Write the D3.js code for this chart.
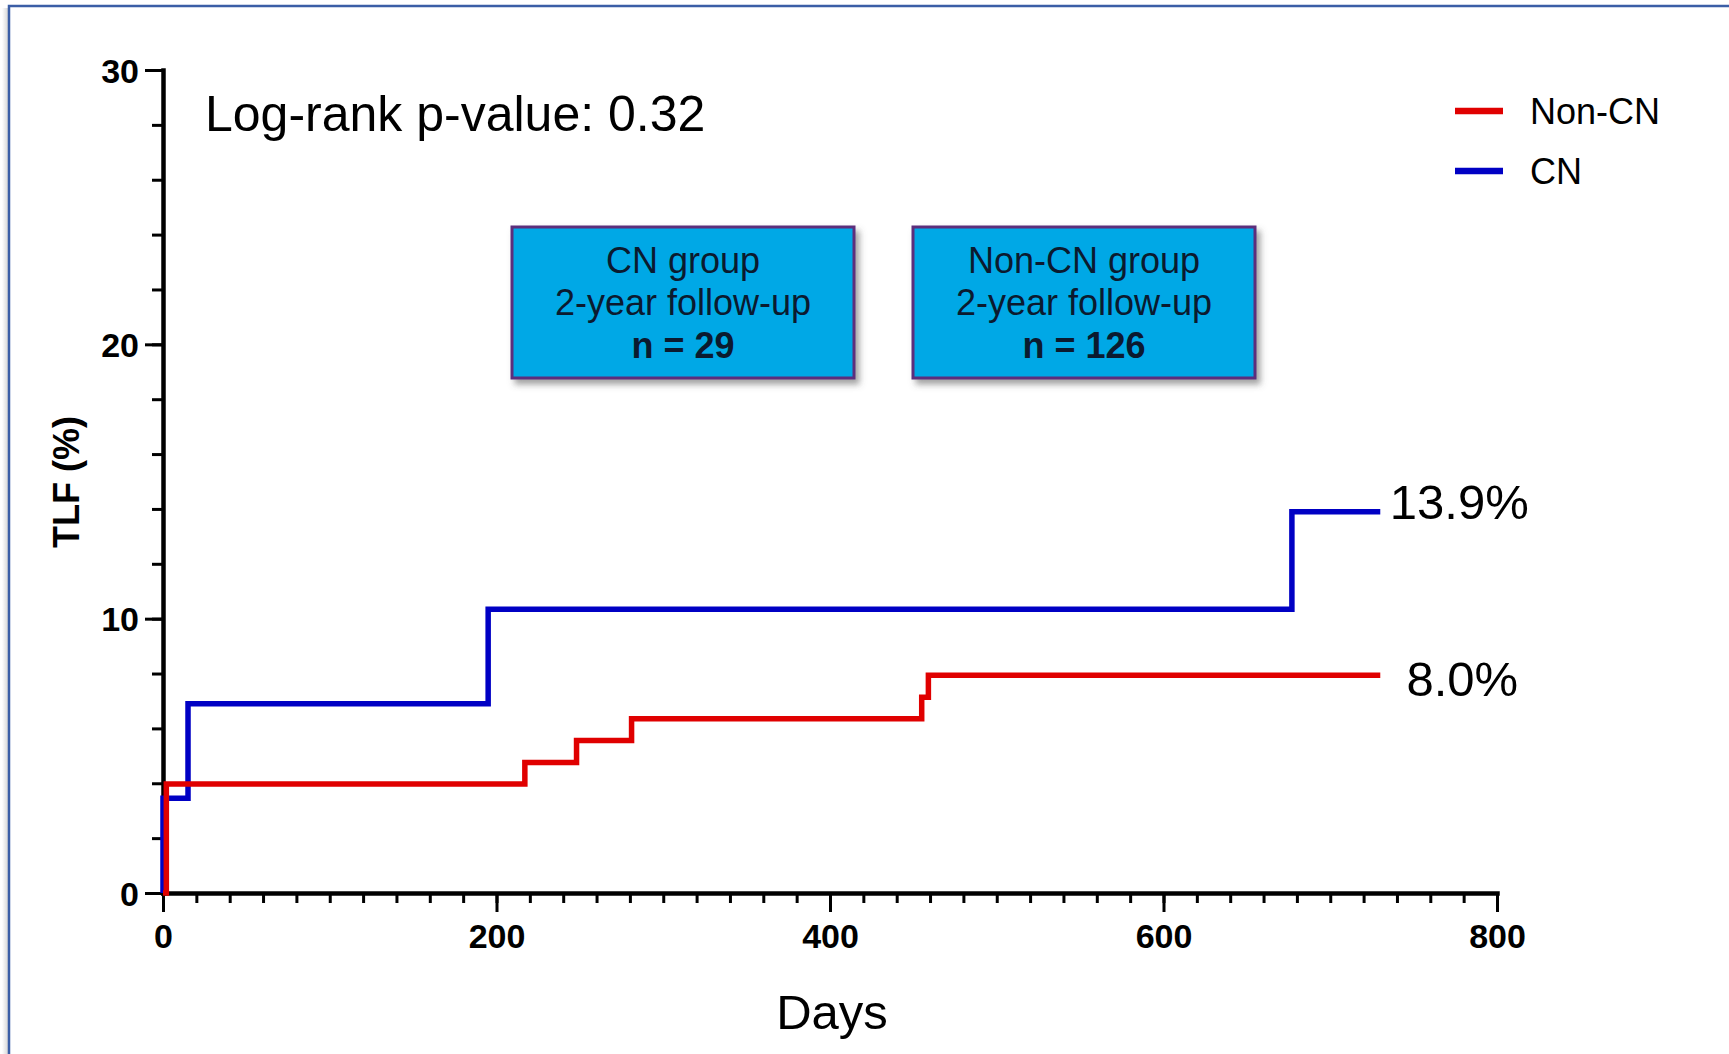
<!DOCTYPE html>
<html>
<head>
<meta charset="utf-8">
<script src="https://cdn.jsdelivr.net/npm/d3@7"></script>
<style>
  html, body { margin: 0; padding: 0; background: #fff; }
  svg { display: block; font-family: Arial, "Liberation Sans", Helvetica, sans-serif; }
</style>
</head>
<body>
<svg id="chart" width="1729" height="1054"></svg>
<script>
// ---- data ----
const seriesNames = ["Non-CN", "CN"];
const nonCnDays   = [0, 2, 217, 248, 281, 455, 459, 730];
const nonCnValues = [0, 3.97, 4.76, 5.56, 6.35, 7.14, 7.94, 7.94];
const cnDays      = [0, 0, 15, 195, 677, 730];
const cnValues    = [0, 3.45, 6.90, 10.34, 13.9, 13.9];
const xMajorTicks = [0, 200, 400, 600, 800];
const yMajorTicks = [0, 10, 20, 30];
const endLabels   = ["8.0%", "13.9%"];
const boxTitles   = ["CN group", "Non-CN group"];
const boxSubtitle = "2-year follow-up";
const boxCounts   = [29, 126];
const pValueText  = "Log-rank p-value: 0.32";

const colors = { "Non-CN": "#e00000", "CN": "#0000c4" };
const FONT = 'Arial, "Liberation Sans", Helvetica, sans-serif';

const svg = d3.select("#chart");
const W = 1729, H = 1054;

// frame
const defs = svg.append("defs");
const lg = defs.append("linearGradient").attr("id", "lshadow").attr("x1", 0).attr("x2", 1);
lg.append("stop").attr("offset", "0%").attr("stop-color", "#ffffff");
lg.append("stop").attr("offset", "100%").attr("stop-color", "#d6d6d6");
svg.append("rect").attr("x", 2).attr("y", 8).attr("width", 6).attr("height", H).attr("fill", "url(#lshadow)");
svg.append("rect").attr("x", 9).attr("y", 6).attr("width", W + 20).attr("height", H + 20)
  .attr("fill", "none").attr("stroke", "#3b5ea6").attr("stroke-width", 2.5);

const flt = defs.append("filter").attr("id", "boxshadow").attr("x", "-10%").attr("y", "-10%").attr("width", "130%").attr("height", "140%");
flt.append("feDropShadow").attr("dx", 4).attr("dy", 5).attr("stdDeviation", 3)
  .attr("flood-color", "#555").attr("flood-opacity", 0.55);

// scales
const x = d3.scaleLinear().domain([0, 800]).range([163, 1497]);
const y = d3.scaleLinear().domain([0, 30]).range([893, 70]);

// axes: minor ticks
svg.append("g").attr("transform", `translate(0,${y(0)})`)
  .call(d3.axisBottom(x).tickValues(d3.range(0, 801, 20)).tickSize(10).tickSizeOuter(0).tickFormat(""))
  .call(g => g.select(".domain").remove())
  .call(g => g.selectAll(".tick line").attr("stroke", "#000").attr("stroke-width", 3));
svg.append("g").attr("transform", `translate(${x(0)},0)`)
  .call(d3.axisLeft(y).tickValues(d3.range(0, 31, 2)).tickSize(11).tickSizeOuter(0).tickFormat(""))
  .call(g => g.select(".domain").remove())
  .call(g => g.selectAll(".tick line").attr("stroke", "#000").attr("stroke-width", 3));

// major axes
const xAxis = svg.append("g").attr("transform", `translate(0,${y(0)})`)
  .call(d3.axisBottom(x).tickValues(xMajorTicks).tickSize(19).tickSizeOuter(0).tickPadding(12));
const yAxis = svg.append("g").attr("transform", `translate(${x(0)},0)`)
  .call(d3.axisLeft(y).tickValues(yMajorTicks).tickSize(18).tickSizeOuter(0).tickPadding(6));
[xAxis, yAxis].forEach(g => {
  g.attr("font-family", FONT);
  g.select(".domain").attr("stroke", "#000").attr("stroke-width", 4.5).attr("stroke-linecap", "square");
  g.selectAll(".tick line").attr("stroke", "#000").attr("stroke-width", 3);
  g.selectAll(".tick text").attr("fill", "#000").attr("font-size", 34).attr("font-weight", "bold")
    .attr("font-family", FONT);
});
yAxis.selectAll(".tick text").attr("dy", "0.36em");

// axis titles
svg.append("text").attr("x", (x(0) + x(800)) / 2 + 2).attr("y", 1029)
  .attr("text-anchor", "middle").attr("font-size", 49).attr("fill", "#000").text("Days");
svg.append("text").attr("transform", "translate(79,482) rotate(-90)")
  .attr("text-anchor", "middle").attr("font-size", 36).attr("font-weight", "bold").attr("fill", "#000").text("TLF (%)");

// p-value
svg.append("text").attr("x", 205).attr("y", 131).attr("font-size", 50).attr("fill", "#000").text(pValueText);

// curves
const line = d3.line().x(d => x(d[0])).y(d => y(d[1])).curve(d3.curveStepAfter);
const cnData = cnDays.map((d, i) => [d, cnValues[i]]);
const nonCnData = nonCnDays.map((d, i) => [d, nonCnValues[i]]);
svg.append("path").datum(cnData).attr("d", line).attr("fill", "none")
  .attr("stroke", colors["CN"]).attr("stroke-width", 5.5).attr("stroke-linejoin", "miter");
svg.append("path").datum(nonCnData).attr("d", line).attr("fill", "none")
  .attr("stroke", colors["Non-CN"]).attr("stroke-width", 5.5).attr("stroke-linejoin", "miter");

// end labels
svg.append("text").attr("x", x(730) + 82).attr("y", y(nonCnValues[nonCnValues.length - 1]) + 21)
  .attr("text-anchor", "middle").attr("font-size", 49).attr("fill", "#000").text(endLabels[0]);
svg.append("text").attr("x", x(730) + 79).attr("y", y(cnValues[cnValues.length - 1]) + 7)
  .attr("text-anchor", "middle").attr("font-size", 49).attr("fill", "#000").text(endLabels[1]);

// legend
const legend = svg.append("g");
seriesNames.forEach((name, i) => {
  const ly = 111 + i * 60;
  legend.append("line").attr("x1", 1455).attr("x2", 1503).attr("y1", ly).attr("y2", ly)
    .attr("stroke", colors[name]).attr("stroke-width", 6.5);
  legend.append("text").attr("x", 1530).attr("y", ly + 13).attr("font-size", 36).attr("fill", "#000").text(name);
});

// annotation boxes
const boxX = [512, 913];
boxTitles.forEach((t, i) => {
  const g = svg.append("g");
  g.append("rect").attr("x", boxX[i]).attr("y", 227).attr("width", 342).attr("height", 151)
    .attr("fill", "#00a8e6").attr("stroke", "#5b2d7c").attr("stroke-width", 3)
    .attr("filter", "url(#boxshadow)");
  const cx = boxX[i] + 171;
  g.append("text").attr("x", cx).attr("y", 273).attr("text-anchor", "middle")
    .attr("font-size", 36).attr("fill", "#0b1a2f").text(t);
  g.append("text").attr("x", cx).attr("y", 315).attr("text-anchor", "middle")
    .attr("font-size", 36).attr("fill", "#0b1a2f").text(boxSubtitle);
  g.append("text").attr("x", cx).attr("y", 358).attr("text-anchor", "middle")
    .attr("font-size", 36).attr("font-weight", "bold").attr("fill", "#0b1a2f").text("n = " + boxCounts[i]);
});
</script>
</body>
</html>
